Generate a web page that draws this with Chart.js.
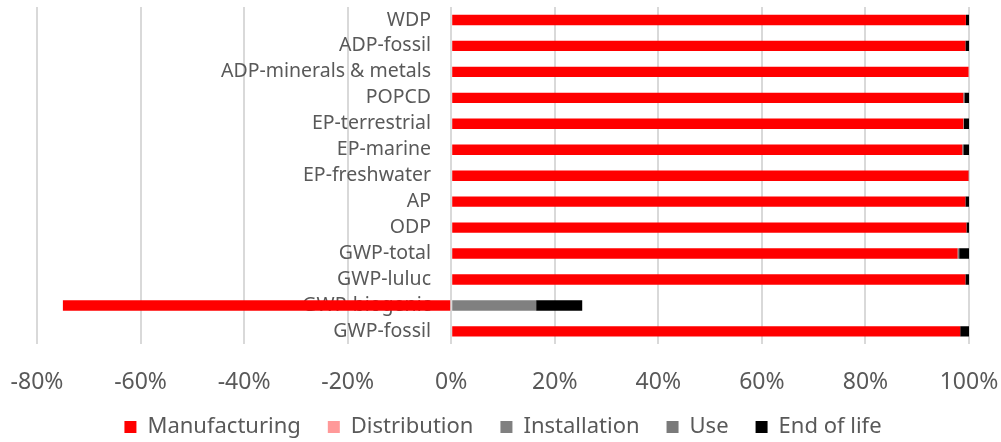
<!DOCTYPE html>
<html>
<head>
<meta charset="utf-8">
<script src="https://cdn.jsdelivr.net/npm/chart.js@4"></script>
<style>
  html,body{margin:0;padding:0;background:#fff;}
  #wrap{width:1001px;height:442px;position:relative;}
</style>
</head>
<body>
<div id="wrap"><canvas id="c"></canvas></div>
<script>
// impact categories, top to bottom
const CATEGORIES = ["WDP","ADP-fossil","ADP-minerals & metals","POPCD","EP-terrestrial","EP-marine","EP-freshwater","AP","ODP","GWP-total","GWP-luluc","GWP-biogenic","GWP-fossil"];
// share of each life-cycle stage (%)
const MANUFACTURING = [99.4, 99.3, 99.9, 98.9, 98.9, 98.7, 99.9, 99.3, 99.5, 97.8, 99.3, -75.0, 98.3];
const DISTRIBUTION  = [0, 0, 0.1, 0, 0, 0, 0.05, 0, 0, 0, 0, 0, 0];
const INSTALLATION  = [0, 0, 0, 0.2, 0.1, 0.2, 0, 0, 0, 0.3, 0, 16.4, 0];
const USE           = [0, 0, 0, 0, 0, 0, 0, 0, 0, 0, 0, 0, 0];
const END_OF_LIFE   = [0.6, 0.7, 0, 0.9, 1.0, 1.1, 0.05, 0.7, 0.5, 1.9, 0.7, 8.9, 1.7];
const X_TICKS = [-80,-60,-40,-20,0,20,40,60,80,100];

const TXT="#595959", FONT="'Noto Sans', sans-serif";

const ds=(label,data,color)=>({label,data,backgroundColor:color,borderWidth:0,categoryPercentage:0.4,barPercentage:1});

new Chart(document.getElementById("c"),{
  type:"bar",
  data:{labels:CATEGORIES,datasets:[
    ds("Manufacturing",MANUFACTURING,"#ff0000"),
    ds("Distribution",DISTRIBUTION,"#ff9999"),
    ds("Installation",INSTALLATION,"#808080"),
    ds("Use",USE,"#7a7a7a"),
    ds("End of life",END_OF_LIFE,"#000000")
  ]},
  options:{
    indexAxis:"y",
    responsive:true,maintainAspectRatio:false,animation:false,
    layout:{padding:{left:37,right:32,top:7,bottom:-6}},
    scales:{
      x:{stacked:true,min:X_TICKS[0],max:X_TICKS[X_TICKS.length-1],
        afterBuildTicks:s=>{s.ticks=X_TICKS.map(v=>({value:v}));},
        afterFit:s=>{s.height-=31;s.paddingLeft=0;s.paddingRight=0;},
        grid:{color:"#d9d9d9",lineWidth:2,drawTicks:false},
        border:{display:false},
        ticks:{padding:24,color:TXT,font:{family:FONT,size:23},callback:v=>v+"%"}},
      y:{stacked:true,position:{x:-3.9},z:1,
        afterFit:s=>{s.paddingTop=0;s.paddingBottom=0;},
        grid:{display:false},border:{display:false},
        ticks:{autoSkip:false,color:TXT,font:{family:FONT,size:19.5}}}
    },
    plugins:{
      tooltip:{enabled:false},
      legend:{position:"bottom",
        labels:{boxWidth:12,boxHeight:12,padding:27,color:TXT,font:{family:FONT,size:22}}}
    }
  }
});
</script>
</body>
</html>
